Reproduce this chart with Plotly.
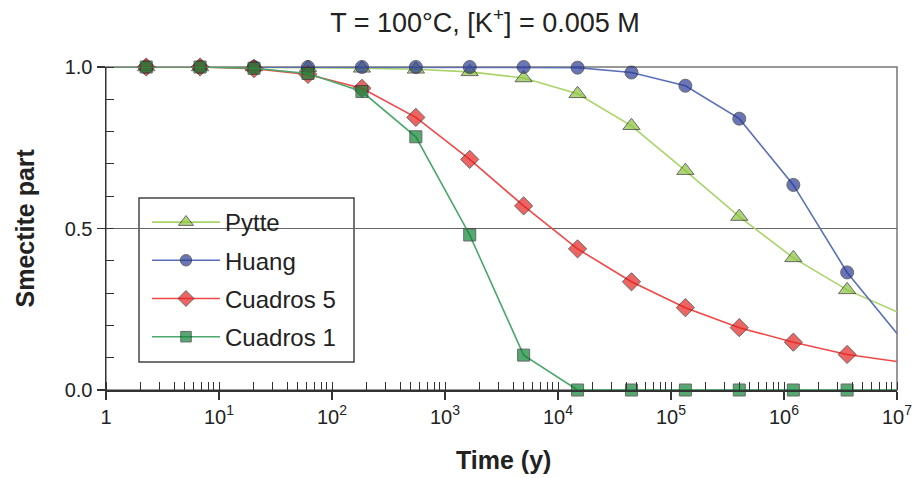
import plotly.graph_objects as go

# ---- data ----
time_y = [1, 2.27, 6.8, 20.4, 61.3, 184, 552, 1655, 4965, 14900, 44700,
          134000, 402000, 1210000, 3620000, 10000000]
pytte = [1.0, 1.0, 1.0, 1.0, 0.998, 0.996, 0.993, 0.985, 0.966, 0.917, 0.818,
         0.679, 0.537, 0.409, 0.310, 0.242]
huang = [1.0, 1.0, 1.0, 1.0, 1.0, 1.0, 1.0, 1.0, 1.0, 0.998, 0.983,
         0.942, 0.840, 0.635, 0.364, 0.175]
cuadros5 = [1.0, 1.0, 1.0, 0.995, 0.977, 0.934, 0.844, 0.714, 0.570, 0.437, 0.335,
            0.255, 0.193, 0.148, 0.110, 0.088]
cuadros1 = [1.0, 1.0, 1.0, 0.996, 0.980, 0.924, 0.784, 0.480, 0.108, 0.0, 0.0,
            0.0, 0.0, 0.0, 0.0, 0.0]

series_names = ["Pytte", "Huang", "Cuadros 5", "Cuadros 1"]
x_tickvals = [1, 10, 100, 1000, 10000, 100000, 1000000, 10000000]
x_ticktext = ["1", "10<sup>1</sup>", "10<sup>2</sup>", "10<sup>3</sup>",
              "10<sup>4</sup>", "10<sup>5</sup>", "10<sup>6</sup>", "10<sup>7</sup>"]
y_tickvals = [0, 0.5, 1.0]
y_ticktext = ["0.0", "0.5", "1.0"]

FONT = "Arial, 'Liberation Sans', sans-serif"
styles = [
    dict(line="#a9d468", fill="#8cc43c", symbol="triangle-up", size=15),
    dict(line="#5a6fb8", fill="#2c3c96", symbol="circle", size=13),
    dict(line="#f04848", fill="#e42420", symbol="diamond", size=14),
    dict(line="#4aa86a", fill="#0f8436", symbol="square", size=12),
]

fig = go.Figure()
for name, ys, st in zip(series_names, [pytte, huang, cuadros5, cuadros1], styles):
    sizes = [0] + [st["size"]] * (len(time_y) - 2) + [0]
    fig.add_trace(go.Scatter(
        x=time_y, y=ys, name=name, mode="lines+markers",
        legendgroup=name,
        line=dict(color=st["line"], width=1.6),
        marker=dict(symbol=st["symbol"], size=sizes, color=st["fill"],
                    line=dict(color="#2b2b2b", width=1)),
        cliponaxis=False,
    ))

ML, MR, MT, MB = 106, 18, 67, 88
PW = 915 - ML - MR
PH = 478 - MT - MB


def px_x(px):
    return (px - ML) / PW


def px_y(py):
    return (MT + PH - py) / PH


fig.update_layout(
    width=915, height=478,
    margin=dict(l=ML, r=MR, t=MT, b=MB),
    paper_bgcolor="white", plot_bgcolor="white",
    font=dict(family=FONT, color="#222"),
    title=dict(text="T = 100°C, [K<sup>+</sup>] = 0.005 M", x=485 / 915, xanchor="center",
               y=1 - 23 / 478, yanchor="middle", yref="container",
               font=dict(size=27, family=FONT, color="#222")),
    showlegend=True,
    hovermode=False,
    legend=dict(x=px_x(147), y=px_y(200), xanchor="left", yanchor="top",
                bgcolor="rgba(0,0,0,0)", borderwidth=0,
                font=dict(size=24, family=FONT, color="#222"),
                tracegroupgap=4, itemwidth=68, traceorder="grouped"),
    shapes=[
        dict(type="rect", xref="paper", yref="paper", x0=0, x1=1, y0=0, y1=1,
             line=dict(color="#777", width=1.5), layer="between"),
        dict(type="rect", xref="paper", yref="paper",
             x0=px_x(139), x1=px_x(354), y0=px_y(362), y1=px_y(198),
             fillcolor="white", line=dict(color="#444", width=1.5), layer="between"),
    ],
    annotations=[
        dict(text="<b>Smectite part</b>", xref="paper", yref="paper",
             x=px_x(24), y=0.5, xanchor="center", yanchor="middle",
             textangle=-90, showarrow=False,
             font=dict(size=25, family=FONT, color="#222")),
        dict(text="<b>Time (y)</b>", xref="paper", yref="paper",
             x=px_x(503), y=px_y(460), xanchor="center", yanchor="middle",
             showarrow=False, font=dict(size=25, family=FONT, color="#222")),
    ],
)

fig.update_xaxes(
    type="log", range=[0, 7], automargin=False, ticklabeloverflow="allow",
    tickvals=x_tickvals, ticktext=x_ticktext,
    tickfont=dict(size=20, family=FONT, color="#222"),
    ticks="outside", ticklen=8, tickcolor="#333", tickwidth=1.2,
    showline=True, linecolor="#333", linewidth=1.5,
    showgrid=False, zeroline=False,
    minor=dict(ticks="inside", ticklen=8, tickcolor="#333", tickwidth=1, dtick="D1", showgrid=False),
)
fig.update_yaxes(
    range=[0, 1.0], automargin=False, ticklabeloverflow="allow",
    tickvals=y_tickvals, ticktext=y_ticktext,
    tickfont=dict(size=20, family=FONT, color="#222"),
    ticks="outside", ticklen=8, tickcolor="#333", tickwidth=1.2,
    showline=True, linecolor="#333", linewidth=1.5,
    showgrid=True, gridcolor="#666", gridwidth=1.2, zeroline=False,
    minor=dict(ticks="inside", ticklen=8, tickcolor="#333", tickwidth=1, dtick=0.1, showgrid=False),
)

fig.write_html("out.html",
               config={"displayModeBar": False, "staticPlot": True},
               post_script="document.body.style.margin='0px';"
                           "document.body.style.overflow='hidden';")
